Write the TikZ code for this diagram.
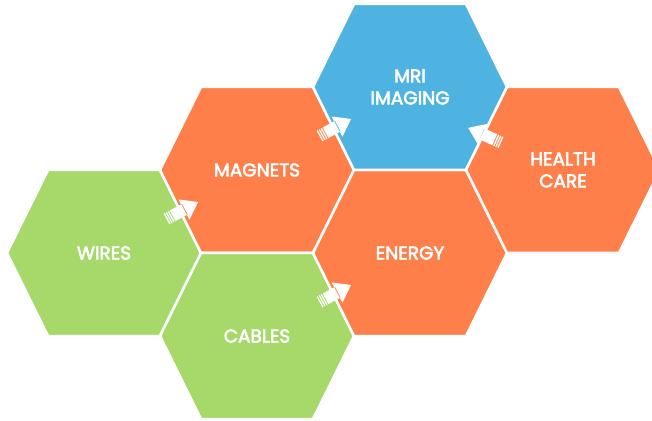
\documentclass[tikz,border=0pt]{standalone}
\usepackage{fontspec}
\setmainfont{Poppins}[FakeBold=3]
\definecolor{hexgreen}{HTML}{A6D96A}
\definecolor{hexorange}{HTML}{FF7F4A}
\definecolor{hexblue}{HTML}{4FB3E1}
\tikzset{
  pics/hex/.style={code={\path[fill=#1,draw=white,line width=2.5pt]
      (-97,0)--(-56,83)--(56,83)--(97,0)--(56,-83)--(-56,-83)--cycle;}},
  pics/flowarrow/.style={code={
      \fill[white] (-9,-6) rectangle (5,6) (4,-11.5)--(20,0)--(4,11.5)--cycle;
      \foreach \s in {0,1,2} \fill[white] (-11.3-2.3*\s,-6) rectangle ++(1.3,12);}},
  lbl/.style={text=white,font=\fontsize{18.5}{22}\selectfont,align=center}
}
\begin{document}
\begin{tikzpicture}[x=1pt,y=1pt]
\useasboundingbox (0,0) rectangle (652,420);
\clip (0,0) rectangle (652,420);
% cells
\pic at (104,167) {hex=hexgreen};  \node[lbl] (wires) at (104,167) {WIRES};
\pic at (257,250) {hex=hexorange}; \node[lbl] (magnets) at (257,250) {MAGNETS};
\pic at (257,84) {hex=hexgreen};   \node[lbl] (cables) at (257,84) {CABLES};
\pic at (410,167) {hex=hexorange}; \node[lbl] (energy) at (410,167) {ENERGY};
\pic at (410,333) {hex=hexblue};   \node[lbl] (mri) at (410,333) {MRI\\IMAGING};
\pic at (563,250) {hex=hexorange}; \node[lbl] (health) at (563,250) {HEALTH\\CARE};
% arrows
\path (wires.center) -- (magnets.center) pic[pos=.5,sloped,allow upside down]{flowarrow};
\path (magnets.center) -- (mri.center) pic[pos=.5,sloped,allow upside down]{flowarrow};
\path (cables.center) -- (energy.center) pic[pos=.5,sloped,allow upside down]{flowarrow};
\path (health.center) -- ([yshift=-15pt]mri.center) pic[pos=.5,sloped,allow upside down]{flowarrow};
\end{tikzpicture}
\end{document}
